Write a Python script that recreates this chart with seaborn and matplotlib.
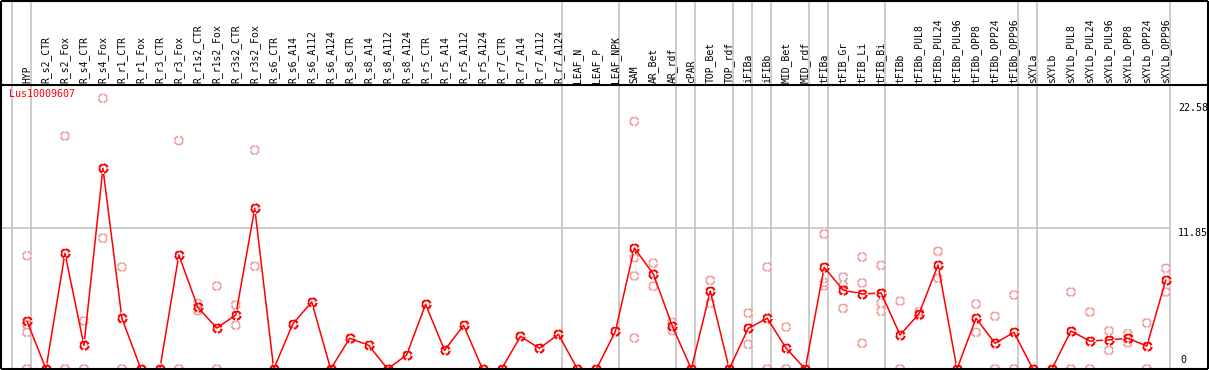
import numpy as np
import matplotlib
matplotlib.use("Agg")
import matplotlib.pyplot as plt
import matplotlib.path as mpath
import seaborn as sns
import pandas as pd

categories = ["HYP", "R_s2_CTR", "R_s2_Fox", "R_s4_CTR", "R_s4_Fox", "R_r1_CTR", "R_r1_Fox",
              "R_r3_CTR", "R_r3_Fox", "R_r1s2_CTR", "R_r1s2_Fox", "R_r3s2_CTR", "R_r3s2_Fox",
              "R_s6_CTR", "R_s6_A14", "R_s6_A112", "R_s6_A124", "R_s8_CTR", "R_s8_A14",
              "R_s8_A112", "R_s8_A124", "R_r5_CTR", "R_r5_A14", "R_r5_A112", "R_r5_A124",
              "R_r7_CTR", "R_r7_A14", "R_r7_A112", "R_r7_A124", "LEAF_N", "LEAF_P", "LEAF_NPK",
              "SAM", "AR_Bet", "AR_rdf", "cPAR", "TOP_Bet", "TOP_rdf", "iFIBa", "iFIBb",
              "MID_Bet", "MID_rdf", "tFIBa", "tFIB_Gr", "tFIB_Li", "tFIB_Bi", "tFIBb",
              "tFIBb_PUL8", "tFIBb_PUL24", "tFIBb_PUL96", "tFIBb_OPP8", "tFIBb_OPP24",
              "tFIBb_OPP96", "sXYLa", "sXYLb", "sXYLb_PUL8", "sXYLb_PUL24", "sXYLb_PUL96",
              "sXYLb_OPP8", "sXYLb_OPP24", "sXYLb_OPP96"]

mean_values = [4.03, 0, 9.72, 1.99, 16.86, 4.26, 0, 0, 9.58, 5.18, 3.44, 4.54, 13.5,
               0, 3.78, 5.63, 0, 2.58, 1.99, 0, 1.18, 5.43, 1.57, 3.67, 0, 0, 2.74, 1.74, 2.91,
               0, 0, 3.16, 10.17, 7.98, 3.61, 0, 6.55, 0, 3.42, 4.26, 1.74, 0,
               8.54, 6.64, 6.3, 6.39, 2.86, 4.65, 8.74, 0, 4.26, 2.16, 3.08,
               0, 0, 3.19, 2.35, 2.44, 2.58, 1.93, 7.48]

replicate_values = {
    0: [9.52, 3.7, 3.08, 0], 2: [19.58, 0], 3: [4.03, 0], 4: [22.75, 11.0], 5: [8.57, 0],
    8: [19.2, 0], 9: [5.52, 4.9], 10: [6.97, 0], 11: [5.38, 3.67], 12: [18.4, 8.63],
    32: [20.8, 9.36, 7.82, 2.6], 33: [8.9, 6.95], 34: [3.92, 3.22], 36: [7.45, 5.52],
    38: [4.7, 2.07], 39: [8.57, 0], 40: [3.53, 0], 42: [11.34, 7.26, 7.0],
    43: [7.73, 7.03, 5.1], 44: [9.41, 7.23, 2.16], 45: [8.71, 5.55, 4.85], 46: [5.71, 0],
    47: [4.82, 4.48], 48: [9.89, 7.62], 50: [5.46, 3.08], 51: [4.43, 0], 52: [6.22, 0],
    55: [6.47, 0], 56: [4.79, 0], 57: [3.22, 1.57], 58: [2.97, 2.21], 59: [3.87, 0],
    60: [8.46, 6.47],
}

group_ends = [-1, 0, 28, 31, 34, 35, 37, 38, 39, 41, 42, 45, 52, 53, 60]
y_tick_values = [22.58, 11.85, 0]
gene_name = "Lus10009607"

sns.set_theme(style="white")
plt.rcParams['font.family'] = ['DejaVu Sans Mono']

RED = "#ff0000"
PALE = "#f0a0a0"
GRAY = "#c4c4c4"

# tick-only marker (small strokes outside the circle)
tverts = [(0, 1.0), (0, 0.68), (0, -1.0), (0, -0.68), (1.0, 0), (0.68, 0), (-1.0, 0), (-0.68, 0)]
tcodes = [mpath.Path.MOVETO, mpath.Path.LINETO] * 4
tick_path = mpath.Path(tverts, tcodes)

fig = plt.figure(figsize=(12.09, 3.70), dpi=100)
ax = fig.add_axes([0, 0, 1, 1])

n = len(categories)
xs = np.arange(n)

px_step = 18.98
px0 = 27.0
py0 = 369.0
py_unit = 11.9
ax.set_xlim((0 - px0) / px_step, (1209 - px0) / px_step)
ax.set_ylim((py0 - 370) / py_unit, (py0 - 0) / py_unit)
ax.axis("off")

x_left = (1 - px0) / px_step
x_right = (1208 - px0) / px_step
y_top = (py0 - 0.5) / py_unit
y_header = (py0 - 85) / py_unit

for g in group_ends:
    ax.vlines(g + 0.2, 0, y_top, color=GRAY, lw=1.2, zorder=1)
ax.hlines(y_tick_values[1], x_left, group_ends[-1] + 0.2, color=GRAY, lw=1.2, zorder=1)

ax.hlines([0, y_header, y_top], x_left, x_right, color="black", lw=1.5, zorder=5)
ax.vlines([x_left, x_right], 0, y_top, color="black", lw=1.5, zorder=5)

rx, ry = [], []
for k, vals in replicate_values.items():
    for v in vals:
        rx.append(k)
        ry.append(v)
rep_df = pd.DataFrame({"x": rx, "y": ry})
circle_s = 6.0 ** 2
tick_s = 8.6 ** 2
sns.scatterplot(data=rep_df, x="x", y="y", marker="o", s=circle_s, facecolor="none",
                edgecolor=PALE, linewidth=1.3, ax=ax, zorder=3, legend=False)
sns.scatterplot(data=rep_df, x="x", y="y", marker=tick_path, s=tick_s,
                color=PALE, linewidth=1.1, ax=ax, zorder=3, legend=False)

mean_df = pd.DataFrame({"x": xs, "y": mean_values})
sns.lineplot(data=mean_df, x="x", y="y", color=RED, lw=1.1, marker="o",
             markersize=6.0, markerfacecolor="none", markeredgecolor=RED, markeredgewidth=1.5,
             ax=ax, zorder=4, legend=False)
sns.scatterplot(data=mean_df, x="x", y="y", marker=tick_path, s=tick_s,
                color=RED, linewidth=1.2, ax=ax, zorder=4, legend=False)
ax.set_xlabel("")
ax.set_ylabel("")

for i, c in enumerate(categories):
    ax.text(i, y_header + 2.0 / py_unit, c, rotation=90, ha="center", va="bottom",
            fontsize=7, color="black")

lab_x = (1178 - px0) / px_step
ax.text(lab_x, y_tick_values[0] - 2.5 / py_unit, f"{y_tick_values[0]:.2f}", ha="left", va="top",
        fontsize=7.2, color="black")
ax.text(lab_x, y_tick_values[1] - 0.5 / py_unit, f"{y_tick_values[1]:.2f}", ha="left", va="top",
        fontsize=7.2, color="black")
ax.text(lab_x + 0.1, y_tick_values[2] + 4 / py_unit, "0", ha="left", va="bottom",
        fontsize=7.2, color="black")

ax.text(x_left + 8 / px_step, y_header - 4 / py_unit, gene_name, ha="left", va="top",
        fontsize=7.2, color=RED)

fig.savefig("out.png", dpi=100)
